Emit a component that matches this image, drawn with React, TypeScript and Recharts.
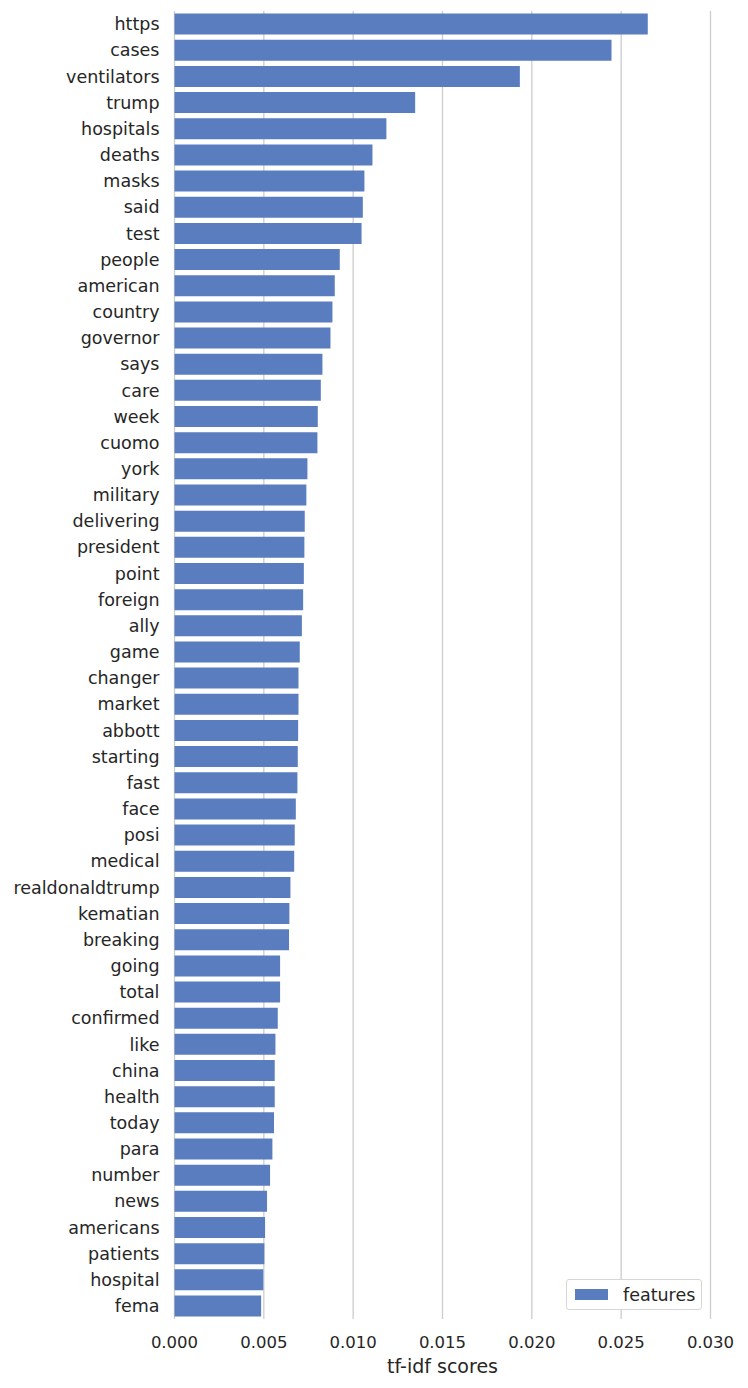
import { Bar, BarChart, CartesianGrid, Legend, XAxis, YAxis } from "recharts"

const words = [
  "https", "cases", "ventilators", "trump", "hospitals", "deaths", "masks", "said", "test", "people",
  "american", "country", "governor", "says", "care", "week", "cuomo", "york", "military", "delivering",
  "president", "point", "foreign", "ally", "game", "changer", "market", "abbott", "starting", "fast",
  "face", "posi", "medical", "realdonaldtrump", "kematian", "breaking", "going", "total", "confirmed", "like",
  "china", "health", "today", "para", "number", "news", "americans", "patients", "hospital", "fema",
]

const scores = [
  0.02649, 0.02446, 0.01933, 0.01347, 0.01186, 0.01108, 0.01063, 0.01054, 0.01047, 0.00925,
  0.00897, 0.00884, 0.00873, 0.00828, 0.00819, 0.00802, 0.008, 0.00744, 0.00738, 0.00729,
  0.00727, 0.00724, 0.0072, 0.00713, 0.00701, 0.00694, 0.00694, 0.00692, 0.0069, 0.00688,
  0.00679, 0.00673, 0.0067, 0.00649, 0.00643, 0.00641, 0.00591, 0.00591, 0.00578, 0.00565,
  0.00561, 0.00561, 0.00557, 0.00548, 0.00535, 0.00518, 0.00507, 0.00503, 0.00497, 0.00485,
]

const xTicks = [0, 0.005, 0.01, 0.015, 0.02, 0.025, 0.03]

const data = words.map((word, i) => ({ word, features: scores[i] }))

const FONT = "'DejaVu Sans', sans-serif"
const BLUE = "#5a7dc0"
const TEXT = "#262626"

function FeaturesLegend() {
  return (
    <div
      style={{
        width: 134,
        height: 29,
        border: "1px solid #d6d6d6",
        borderRadius: 3,
        background: "#fff",
        display: "flex",
        alignItems: "center",
        fontFamily: FONT,
        fontSize: 17.5,
        color: TEXT,
        boxSizing: "content-box",
        whiteSpace: "nowrap",
      }}
    >
      <span style={{ display: "inline-block", width: 33, height: 11, background: BLUE, marginLeft: 8, marginRight: 15 }} />
      <span>features</span>
    </div>
  )
}

export default function App() {
  return (
    <div style={{ position: "absolute", left: 0, top: 0, width: 748, height: 1388, background: "#fff" }}>
      <BarChart
        width={748}
        height={1388}
        data={data}
        layout="vertical"
        margin={{ top: 11, right: 37.5, bottom: 0, left: 0.5 }}
        barCategoryGap="10%"
      >
        <CartesianGrid horizontal={false} stroke="#cccccc" strokeWidth={1.3} />
        <XAxis
          type="number"
          domain={[0, 0.03]}
          ticks={xTicks}
          tickFormatter={(v: number) => v.toFixed(3)}
          axisLine={false}
          tickLine={false}
          tickSize={0}
          tickMargin={17}
          height={69}
          interval={0}
          tick={{ fill: TEXT, fontSize: 16.5, fontFamily: FONT }}
          label={{
            value: "tf-idf scores",
            position: "insideBottom",
            offset: 15,
            fill: TEXT,
            fontSize: 19,
            fontFamily: FONT,
          }}
        />
        <YAxis
          type="category"
          dataKey="word"
          width={174}
          axisLine={false}
          tickLine={false}
          tickSize={0}
          tickMargin={15}
          interval={0}
          tick={{ fill: TEXT, fontSize: 17.5, fontFamily: FONT }}
        />
        <Legend
          layout="vertical"
          align="center"
          verticalAlign="middle"
          content={() => <FeaturesLegend />}
          wrapperStyle={{ position: "absolute", left: 566, top: 1279, width: 136, height: 31 }}
        />
        <Bar dataKey="features" fill={BLUE} isAnimationActive={false} />
      </BarChart>
    </div>
  )
}
